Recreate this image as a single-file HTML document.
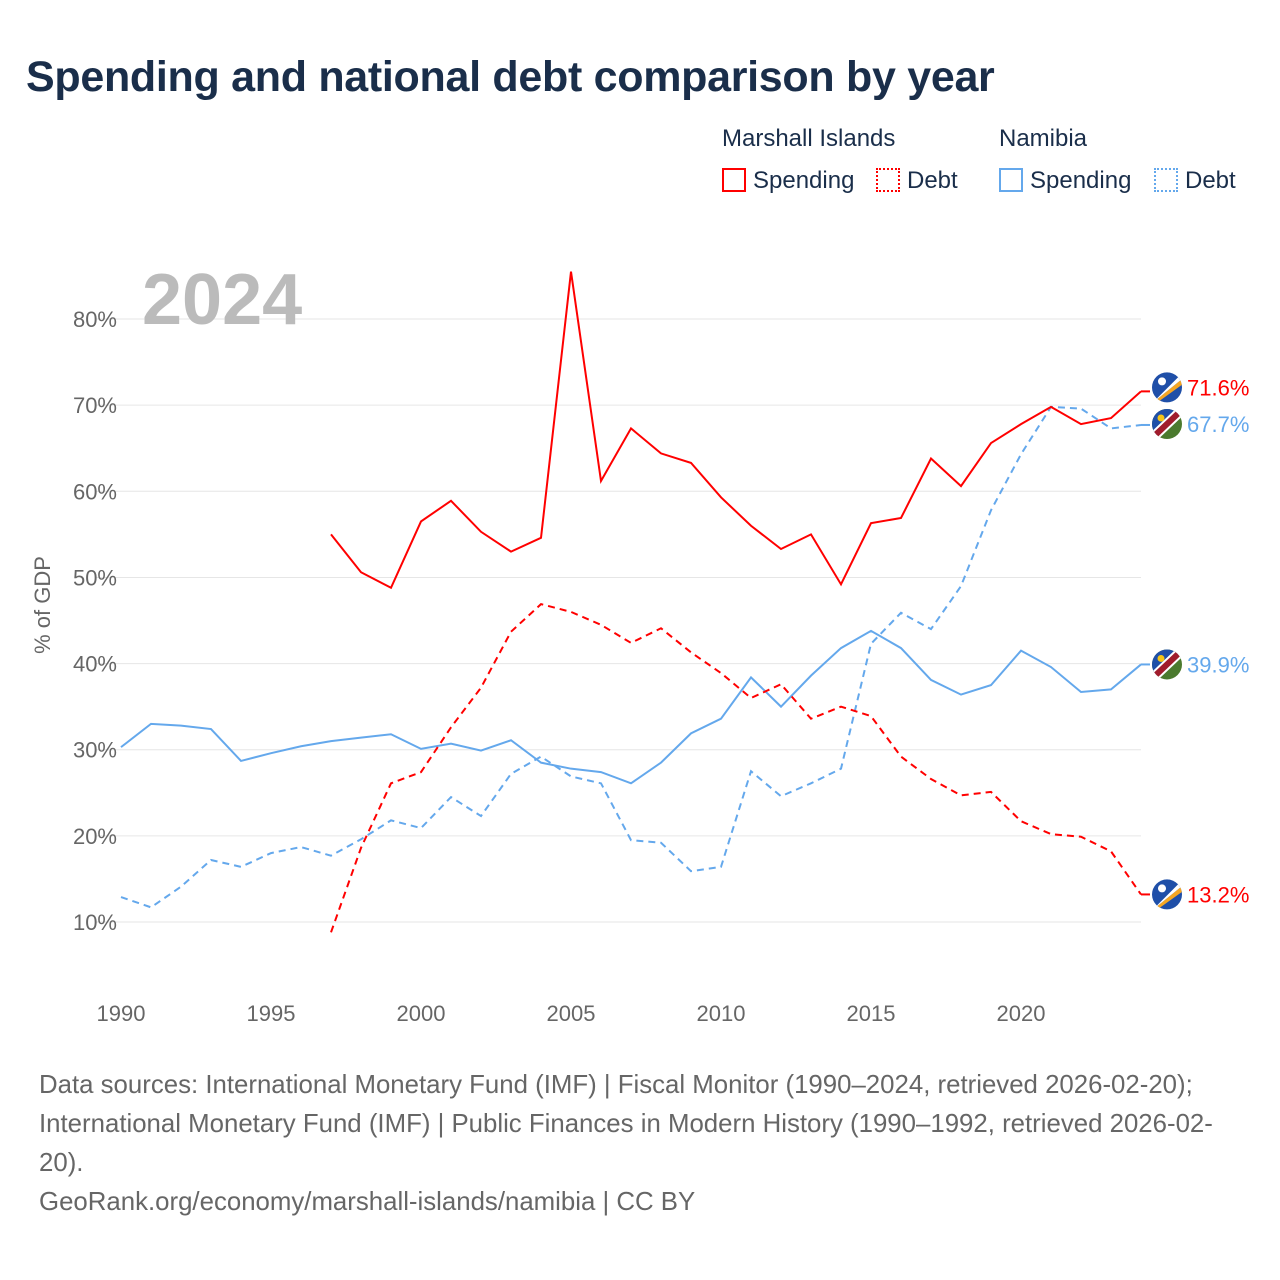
<!DOCTYPE html>
<html><head><meta charset="utf-8"><style>
body{margin:0;background:#fff;font-family:"Liberation Sans",sans-serif}
#wrap{position:relative;width:1280px;height:1280px;overflow:hidden}
.t{position:absolute;white-space:nowrap}
</style></head><body>
<div id="wrap">
<div class="t" style="left:26px;top:53px;font-size:43px;letter-spacing:-0.3px;font-weight:bold;color:#1a2e4a">Spending and national debt comparison by year</div>
<div class="t" style="left:722px;top:125px;font-size:24px;color:#1a2e4a">Marshall Islands</div>
<div class="t" style="left:999px;top:125px;font-size:24px;color:#1a2e4a">Namibia</div>
<div class="t" style="left:722px;top:167px;font-size:24px;color:#1a2e4a"><span style="display:inline-block;width:24px;height:24px;border:2px solid #f00;box-sizing:border-box;vertical-align:-4px;margin-right:7px"></span>Spending</div>
<div class="t" style="left:876px;top:167px;font-size:24px;color:#1a2e4a"><span style="display:inline-block;width:24px;height:24px;border:2px dotted #f00;box-sizing:border-box;vertical-align:-4px;margin-right:7px"></span>Debt</div>
<div class="t" style="left:999px;top:167px;font-size:24px;color:#1a2e4a"><span style="display:inline-block;width:24px;height:24px;border:2px solid #64a8ec;box-sizing:border-box;vertical-align:-4px;margin-right:7px"></span>Spending</div>
<div class="t" style="left:1154px;top:167px;font-size:24px;color:#1a2e4a"><span style="display:inline-block;width:24px;height:24px;border:2px dotted #64a8ec;box-sizing:border-box;vertical-align:-4px;margin-right:7px"></span>Debt</div>
<svg id="chart" width="1280" height="1280" style="position:absolute;left:0;top:0"></svg>
<div class="t" style="left:39px;top:1066px;font-size:25.8px;line-height:39px;color:#666;white-space:normal;width:1195px">Data sources: International Monetary Fund (IMF) | Fiscal Monitor (1990–2024, retrieved 2026-02-20); International Monetary Fund (IMF) | Public Finances in Modern History (1990–1992, retrieved 2026-02-20).<br>GeoRank.org/economy/marshall-islands/namibia | CC BY</div>
</div>
<script>
const years=[];for(let y=1990;y<=2024;y++)years.push(y);
const yTicks=[10,20,30,40,50,60,70,80];
const xTicks=[1990,1995,2000,2005,2010,2015,2020];
const miSpending=[null,null,null,null,null,null,null,55.0,50.6,48.8,56.5,58.9,55.3,53.0,54.6,85.5,61.2,67.3,64.4,63.3,59.3,56.0,53.3,55.0,49.2,56.3,56.9,63.8,60.6,65.6,67.8,69.8,67.8,68.5,71.6];
const miDebt=[null,null,null,null,null,null,null,8.8,18.6,26.1,27.4,32.6,37.2,43.7,46.9,46.0,44.5,42.4,44.1,41.3,38.9,36.0,37.6,33.6,35.0,33.9,29.2,26.6,24.7,25.1,21.7,20.2,19.9,18.2,13.2];
const naSpending=[30.3,33.0,32.8,32.4,28.7,29.6,30.4,31.0,31.4,31.8,30.1,30.7,29.9,31.1,28.5,27.8,27.4,26.1,28.5,31.9,33.6,38.4,35.0,38.6,41.8,43.8,41.8,38.1,36.4,37.5,41.5,39.6,36.7,37.0,39.9];
const naDebt=[12.9,11.7,14.1,17.2,16.4,18.0,18.7,17.7,19.6,21.8,20.9,24.5,22.3,27.2,29.2,26.9,26.1,19.5,19.2,15.9,16.4,27.5,24.6,26.1,27.8,42.3,45.9,44.0,49.0,57.8,64.3,69.8,69.6,67.3,67.7];
const NS="http://www.w3.org/2000/svg";
const svg=document.getElementById('chart');
const X=y=>121+(y-1990)*30;
const Y=v=>922-(v-10)*8.614;
function el(t,a,p){const e=document.createElementNS(NS,t);for(const k in a)e.setAttribute(k,a[k]);(p||svg).appendChild(e);return e;}
yTicks.forEach(v=>{
 const g=el('line',{x1:95,x2:1141,y1:Y(v),y2:Y(v),stroke:'#e6e6e6','stroke-width':1});
 
 
 const t=el('text',{x:117,y:Y(v)+8,'text-anchor':'end','font-size':22,fill:'#666','font-family':'Liberation Sans'});
 t.textContent=v+'%';
 
 
});
xTicks.forEach(yr=>{
 const t=el('text',{x:X(yr),y:1021,'text-anchor':'middle','font-size':22,fill:'#666','font-family':'Liberation Sans'});
 t.textContent=yr;
 
 
});
const yt=el('text',{x:0,y:0,transform:'translate(50,605) rotate(-90)','text-anchor':'middle','font-size':22,fill:'#666','font-family':'Liberation Sans'});
yt.textContent='% of GDP';


const yr=el('text',{x:142,y:324,'font-size':72,'font-weight':'bold',fill:'#bbb','font-family':'Liberation Sans'});
yr.textContent='2024';


function line(data,color,dash,name){
 let d='';let started=false;
 data.forEach((v,i)=>{if(v==null)return;d+=(started?'L':'M')+X(years[i])+','+Y(v);started=true;});
 const p=el('path',{d:d,fill:'none',stroke:color,'stroke-width':2,'stroke-dasharray':dash?'7,5':'none'});
 
 
}
line(naDebt,'#64a8ec',true,'namibia-debt-line');
line(naSpending,'#64a8ec',false,'namibia-spending-line');
line(miDebt,'#f00',true,'marshall-debt-line');
line(miSpending,'#f00',false,'marshall-spending-line');
function flag(cy,kind){
 const g=el('g',{});
 
 
 const id='c'+Math.round(cy);
 const cp=el('clipPath',{id:id},g);el('circle',{cx:1167,cy:cy,r:15},cp);
 const gg=el('g',{'clip-path':'url(#'+id+')'},g);
 if(kind==='marshall'){
  el('rect',{x:1150,y:cy-16,width:34,height:32,fill:'#1f4fa8'},gg);
  el('polygon',{points:`1152,${cy+16} 1184,${cy-10} 1184,${cy-4} 1156,${cy+16}`,fill:'#f5a623'},gg);
  el('polygon',{points:`1152,${cy+16} 1184,${cy-16} 1184,${cy-10}`,fill:'#fff'},gg);
  el('circle',{cx:1162,cy:cy-6,r:4,fill:'#fff'},gg);
 }else{
  el('rect',{x:1150,y:cy-16,width:34,height:32,fill:'#4b7a2e'},gg);
  el('polygon',{points:`1150,${cy-16} 1184,${cy-16} 1150,${cy+16}`,fill:'#1f4fa8'},gg);
  el('line',{x1:1148,y1:cy+18,x2:1186,y2:cy-18,stroke:'#fff','stroke-width':10},gg);
  el('line',{x1:1148,y1:cy+18,x2:1186,y2:cy-18,stroke:'#a01c2c','stroke-width':6},gg);
  el('circle',{cx:1161,cy:cy-6,r:3.5,fill:'#f5c518'},gg);
 }
}
function endLabel(v,color,kind,dy,name){
 const cy=Y(v)+(dy||0);
 el('line',{x1:1141,x2:1150,y1:Y(v),y2:Y(v),stroke:color,'stroke-width':2});
 flag(cy,kind);
 const t=el('text',{x:1187,y:cy+8,'font-size':22,fill:color,'font-family':'Liberation Sans'});
 t.textContent=v.toFixed(1)+'%';
 
 
}
endLabel(miSpending[34],'#f00','marshall',-4,'mi-spending-end-label');
endLabel(naDebt[34],'#64a8ec','namibia',-1,'na-debt-end-label');
endLabel(naSpending[34],'#64a8ec','namibia',0,'na-spending-end-label');
endLabel(miDebt[34],'#f00','marshall',0,'mi-debt-end-label');
</script>
</body></html>
